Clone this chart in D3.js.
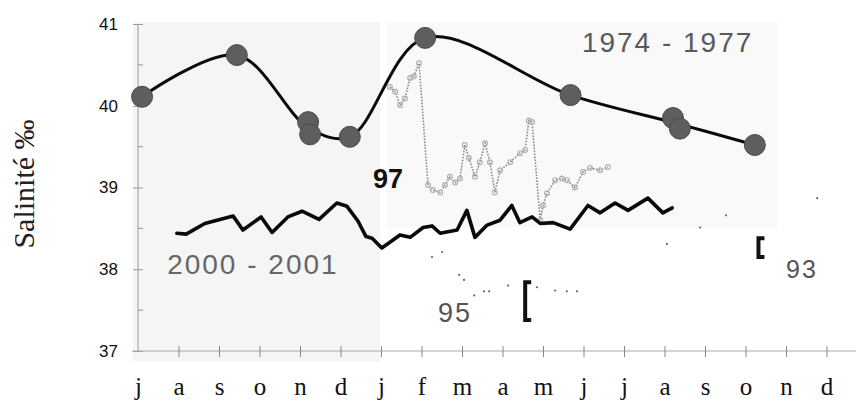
<!DOCTYPE html>
<html>
<head>
<meta charset="utf-8">
<script src="https://cdn.jsdelivr.net/npm/d3@7"></script>
<style>
  html, body { margin: 0; padding: 0; background: #fff; }
  svg { display: block; }
</style>
</head>
<body>
<div id="chart"></div>
<script>
// ---------------- data ----------------
const monthLabels = ["j","a","s","o","n","d","j","f","m","a","m","j","j","a","s","o","n","d"];
const yTickValues = [37, 38, 39, 40, 41];
const yMinorValues = [37.5, 38.5, 39.5, 40.5];

// 1974 - 1977 observations [month index, salinity]
const obs1974 = [[0.1,40.11],[2.44,40.62],[4.2,39.80],[4.25,39.65],[5.23,39.62],[7.09,40.83],[10.68,40.13],[13.21,39.85],[13.38,39.72],[15.23,39.52]];

// 1997 series (grey, dotted with open markers)
const series97 = [[6.22,40.23],[6.35,40.17],[6.47,40.01],[6.59,40.09],[6.72,40.34],[6.81,40.36],[6.94,40.52],[7.16,39.03],[7.28,38.97],[7.46,38.94],[7.58,39.03],[7.70,39.13],[7.83,39.06],[7.95,39.11],[8.07,39.52],[8.17,39.36],[8.32,39.13],[8.44,39.31],[8.57,39.54],[8.69,39.31],[8.81,38.94],[8.94,39.21],[9.19,39.31],[9.43,39.42],[9.56,39.46],[9.65,39.82],[9.73,39.80],[9.93,38.60],[10.0,38.78],[10.10,38.93],[10.30,39.09],[10.47,39.11],[10.59,39.09],[10.79,39.00],[10.99,39.19],[11.16,39.24],[11.41,39.21],[11.60,39.25]];

// 2000 - 2001 series (black jagged line)
const series2000 = [[0.96,38.44],[1.19,38.43],[1.65,38.56],[2.35,38.65],[2.59,38.48],[3.04,38.64],[3.31,38.45],[3.70,38.64],[4.05,38.71],[4.47,38.61],[4.91,38.81],[5.16,38.77],[5.43,38.59],[5.63,38.40],[5.78,38.38],[6.02,38.26],[6.47,38.42],[6.72,38.39],[7.04,38.51],[7.26,38.53],[7.46,38.44],[7.88,38.48],[8.12,38.72],[8.32,38.39],[8.62,38.54],[8.94,38.60],[9.23,38.78],[9.43,38.57],[9.73,38.64],[9.93,38.56],[10.25,38.57],[10.67,38.49],[11.11,38.78],[11.41,38.69],[11.78,38.81],[12.10,38.72],[12.59,38.87],[12.96,38.69],[13.19,38.75]];

// 1995 sparse dots and bracket
const dots95 = [[7.26,38.15],[7.51,38.21],[7.93,37.93],[8.05,37.87],[8.30,37.68],[8.54,37.73],[8.67,37.73],[9.14,37.80],[9.85,37.78],[10.30,37.74],[10.59,37.73],[10.84,37.73]];
const bracket95 = [9.56, 37.38, 37.84];   // [month, low, high]

// 1993 sparse dots and bracket
const dots93 = [[13.06,38.31],[13.88,38.51],[14.52,38.66],[16.77,38.87]];
const bracket93 = [15.32, 38.15, 38.38];

// shaded period backgrounds [m0, m1, v0, v1]
const shade1 = [-0.12, 5.98, 36.87, 41.02];
const shade2 = [6.15, 15.8, 38.51, 41.02];

// annotations [text, month, value]
const labels = [
  {t:"1974 - 1977", m:10.96, v:40.66, size:28, fill:"#5a5a5a", weight:"normal", ls:2},
  {t:"2000 - 2001", m:0.72, v:37.94, size:28, fill:"#666", weight:"normal", ls:2},
  {t:"97", m:5.80, v:39.0, size:27, fill:"#111", weight:"bold", ls:0},
  {t:"95", m:7.41, v:37.35, size:27, fill:"#555", weight:"normal", ls:2},
  {t:"93", m:16.0, v:37.89, size:25, fill:"#555", weight:"normal", ls:2}
];

// ---------------- chart ----------------
const W = 856, H = 403;
const svg = d3.select("#chart").append("svg").attr("width", W).attr("height", H);

const x = d3.scaleLinear().domain([0, 17]).range([138, 826.5]);
const y = d3.scaleLinear().domain([37, 41]).range([351, 24]);

// shaded regions
[[shade1, "#f5f5f5"], [shade2, "#f9f9f9"]].forEach(([s, c]) => {
  svg.append("rect")
    .attr("x", x(s[0])).attr("y", y(s[3]))
    .attr("width", x(s[1]) - x(s[0])).attr("height", y(s[2]) - y(s[3]))
    .attr("fill", c);
});

// y axis
const yAxis = d3.axisLeft(y).tickValues(yTickValues).tickSizeInner(5).tickSizeOuter(0).tickPadding(15).tickFormat(d3.format("d"));
const gy = svg.append("g").attr("transform", `translate(${x(0)},0)`).call(yAxis);
gy.select(".domain").attr("stroke", "#999").attr("d", `M0,${y(41)}V${y(37)}`);
gy.selectAll(".tick line").attr("x1", -5).attr("x2", 5).attr("stroke", "#999");
gy.selectAll(".tick text").attr("font-family", "Liberation Sans, Arial, sans-serif").attr("font-size", 17).attr("fill", "#111");
gy.selectAll(".minor").data(yMinorValues).enter().append("line")
  .attr("x1", 0).attr("x2", 5).attr("y1", d => y(d)).attr("y2", d => y(d)).attr("stroke", "#999");

// x axis
const xAxis = d3.axisBottom(x).tickValues(d3.range(monthLabels.length)).tickFormat(i => monthLabels[i]).tickSizeInner(6).tickSizeOuter(0);
const gx = svg.append("g").attr("transform", `translate(0,${y(37)})`).call(xAxis);
gx.select(".domain").attr("stroke", "#aaa").attr("d", `M${x(-0.15)},0H${W}`);
gx.selectAll(".tick line").attr("y1", -5).attr("y2", 6).attr("stroke", "#888")
  .attr("display", d => d === 0 ? "none" : null);
gx.selectAll(".tick text").attr("font-family", "Liberation Serif, Times New Roman, serif")
  .attr("font-size", 25).attr("fill", "#111").attr("y", 44).attr("dy", 0);

// y title
svg.append("text")
  .attr("transform", `translate(34,${184}) rotate(-90)`)
  .attr("text-anchor", "middle")
  .attr("font-family", "Liberation Serif, Times New Roman, serif")
  .attr("font-size", 30).attr("fill", "#222")
  .text("Salinité ‰");

// 1995 / 1993 dots + brackets
svg.append("g").selectAll("circle").data(dots95.concat(dots93)).enter().append("circle")
  .attr("cx", d => x(d[0])).attr("cy", d => y(d[1])).attr("r", 1.1).attr("fill", "#666");
[bracket95, bracket93].forEach(b => {
  const bx = x(b[0]);
  svg.append("path")
    .attr("d", `M${bx + 6},${y(b[2])}H${bx}V${y(b[1])}H${bx + 6}`)
    .attr("fill", "none").attr("stroke", "#111").attr("stroke-width", 4).attr("stroke-linejoin", "miter");
});

// 1997 grey dotted series
const line = d3.line().x(d => x(d[0])).y(d => y(d[1]));
svg.append("path").datum(series97).attr("d", line)
  .attr("fill", "none").attr("stroke", "#8a8a8a").attr("stroke-width", 1.6).attr("stroke-dasharray", "1.6,1.4");
svg.append("g").selectAll("circle").data(series97).enter().append("circle")
  .attr("cx", d => x(d[0])).attr("cy", d => y(d[1])).attr("r", 2.4)
  .attr("fill", "none").attr("stroke", "#b0b0b0").attr("stroke-width", 1.2);

// 2000 - 2001 black jagged line
svg.append("path").datum(series2000).attr("d", line)
  .attr("fill", "none").attr("stroke", "#0a0a0a").attr("stroke-width", 3.6)
  .attr("stroke-linejoin", "round").attr("stroke-linecap", "round");

// 1974 - 1977 smooth curve (nodes: close observations averaged)
const nodes = [];
obs1974.forEach(p => {
  const last = nodes[nodes.length - 1];
  if (last && Math.abs(last.m - p[0]) < 0.3) { last.vs.push(p[1]); last.ms.push(p[0]); }
  else nodes.push({m: p[0], ms: [p[0]], vs: [p[1]]});
});
const curveNodes = nodes.map(n => [d3.mean(n.ms), d3.mean(n.vs)]);
svg.append("path").datum(curveNodes)
  .attr("d", d3.line().x(d => x(d[0])).y(d => y(d[1])).curve(d3.curveCatmullRom.alpha(0.5)))
  .attr("fill", "none").attr("stroke", "#0a0a0a").attr("stroke-width", 3);
svg.append("g").selectAll("circle").data(obs1974).enter().append("circle")
  .attr("cx", d => x(d[0])).attr("cy", d => y(d[1])).attr("r", 10.5)
  .attr("fill", "#5e5e5e").attr("stroke", "#4a4a4a").attr("stroke-width", 1);

// annotations
labels.forEach(l => {
  svg.append("text")
    .attr("x", x(l.m)).attr("y", y(l.v))
    .attr("font-family", "Liberation Sans, Arial, sans-serif")
    .attr("font-size", l.size).attr("font-weight", l.weight)
    .attr("letter-spacing", l.ls).attr("fill", l.fill)
    .text(l.t);
});
</script>
</body>
</html>
